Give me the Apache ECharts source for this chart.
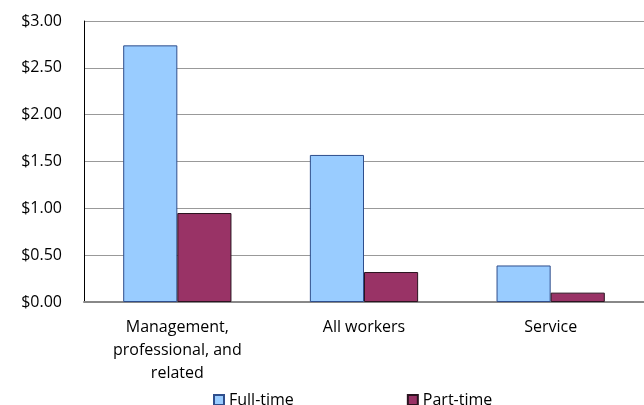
<!DOCTYPE html>
<html><head><meta charset="utf-8">
<script src="https://cdn.jsdelivr.net/npm/echarts@6/dist/echarts.min.js"></script>
<style>html,body{margin:0;padding:0;background:#fff}#c{width:644px;height:405px}</style>
</head><body><div id="c"></div>
<script>
var categories = ['Management,\nprofessional, and\nrelated', 'All workers', 'Service'];
var fullTime = [2.74, 1.57, 0.39];
var partTime = [0.95, 0.32, 0.10];
var seriesNames = ['Full-time', 'Part-time'];

var chart = echarts.init(document.getElementById('c'));
var font = '"Open Sans", sans-serif';
chart.setOption({
  animation: false,
  textStyle: {fontFamily: font},
  grid: {left: 84, right: -1, top: 21, bottom: 103, containLabel: false},
  legend: {
    top: 387, left: 208, itemGap: 113, itemWidth: 10, itemHeight: 10,
    icon: 'rect',
    textStyle: {fontSize: 16, color: '#000', fontFamily: font},
    data: seriesNames
  },
  xAxis: {
    type: 'category', data: categories,
    axisLine: {lineStyle: {color: '#888', width: 2}},
    axisTick: {show: false},
    axisLabel: {fontSize: 16, color: '#000', lineHeight: 23, margin: 14, interval: 0, fontFamily: font}
  },
  yAxis: {
    type: 'value', min: 0, max: 3, interval: 0.5,
    axisLine: {show: true, lineStyle: {color: '#000', width: 1}},
    axisTick: {show: false},
    splitLine: {lineStyle: {color: '#999', width: 1}},
    axisLabel: {fontSize: 16, color: '#000', margin: 22, fontFamily: font,
      formatter: function (v) { return '$' + v.toFixed(2); }}
  },
  series: [
    {name: seriesNames[0], type: 'bar', data: fullTime, barGap: '0%', barCategoryGap: '42%',
     itemStyle: {color: '#99CCFF', borderColor: '#2F4E8C', borderWidth: 1}},
    {name: seriesNames[1], type: 'bar', data: partTime,
     itemStyle: {color: '#993366', borderColor: '#2B1420', borderWidth: 1}}
  ]
});
</script></body></html>
